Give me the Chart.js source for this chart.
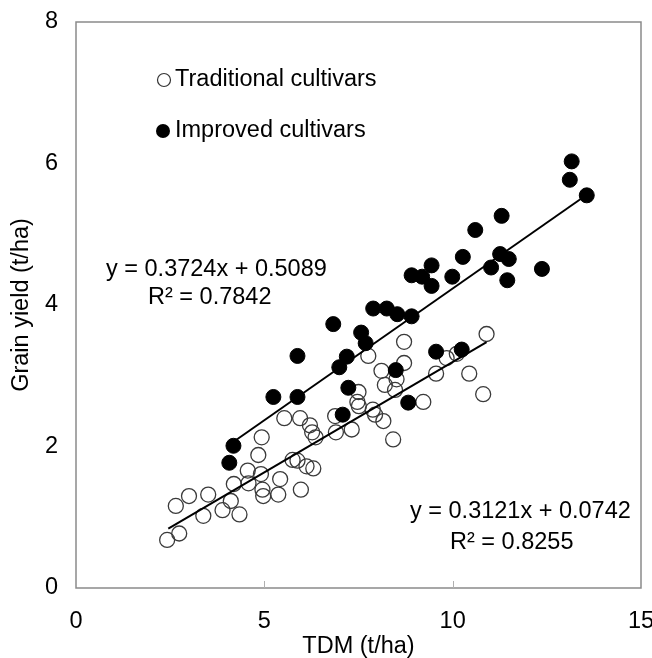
<!DOCTYPE html>
<html lang="en">
  <head>
    <meta charset="UTF-8" />
    <title>Grain yield vs TDM</title>
    <style>
      body { margin: 0; background: #fff; }
    </style>
  </head>
  <body>
    <div style="position: relative; width: 652px; height: 658px">
      <canvas id="scatter"></canvas>
    </div>

    <script src="https://cdn.jsdelivr.net/npm/chart.js"></script>
    <script>
      // traditional cultivars (open circles)
      const tradX = [2.42, 2.74, 2.65, 3.0, 3.38, 3.51, 3.89, 4.11, 4.34, 4.19, 4.56, 4.58, 4.91, 4.95, 4.97, 4.84, 4.93, 5.37, 5.42, 5.53, 5.95, 5.75, 5.88, 5.97, 6.12, 6.3, 6.21, 6.27, 6.36, 6.9, 6.88, 7.32, 7.5, 7.47, 7.51, 7.76, 7.88, 7.94, 8.16, 8.11, 8.2, 8.42, 8.47, 8.51, 8.71, 8.71, 9.84, 9.56, 10.44, 10.81, 9.22, 10.9, 10.11];
      const tradY = [0.68, 0.77, 1.16, 1.3, 1.02, 1.32, 1.1, 1.23, 1.04, 1.47, 1.66, 1.48, 1.61, 1.39, 1.3, 1.88, 2.13, 1.32, 1.54, 2.4, 2.4, 1.81, 1.8, 1.39, 1.72, 1.69, 2.3, 2.2, 2.13, 2.2, 2.43, 2.24, 2.77, 2.63, 2.57, 3.28, 2.52, 2.45, 2.36, 3.07, 2.87, 2.1, 2.8, 2.95, 3.48, 3.18, 3.25, 3.03, 3.03, 2.74, 2.63, 3.59, 3.31];

      // improved cultivars (filled circles)
      const impX = [4.18, 4.07, 5.24, 5.88, 5.88, 6.83, 6.99, 7.19, 7.23, 7.08, 7.57, 7.69, 7.89, 8.25, 8.53, 8.91, 8.49, 8.82, 9.56, 10.24, 8.91, 9.19, 9.44, 9.44, 9.99, 10.27, 10.6, 11.3, 11.26, 11.49, 11.02, 11.45, 12.37, 13.16, 13.11, 13.56];
      const impY = [2.01, 1.77, 2.7, 2.7, 3.28, 3.73, 3.12, 3.27, 2.83, 2.45, 3.61, 3.46, 3.95, 3.95, 3.87, 3.84, 3.08, 2.62, 3.34, 3.37, 4.42, 4.4, 4.27, 4.56, 4.4, 4.68, 5.06, 5.26, 4.72, 4.65, 4.53, 4.35, 4.51, 6.03, 5.77, 5.55];

      // fitted lines shown on the chart
      const tradFit = { slope: 0.3121, intercept: 0.0742, from: 2.45, to: 10.9 };
      const impFit = { slope: 0.3724, intercept: 0.5089, from: 4.25, to: 13.56 };

      const xTicks = [0, 5, 10, 15];
      const yTicks = [0, 2, 4, 6, 8];

      const FONT = "'Liberation Sans', Arial, sans-serif";
      const TEXT_SIZE = 23.5;

      function toPoints(xs, ys) {
        return xs.map((x, i) => ({ x: x, y: ys[i] }));
      }
      function fitLine(f) {
        return [
          { x: f.from, y: f.slope * f.from + f.intercept },
          { x: f.to, y: f.slope * f.to + f.intercept },
        ];
      }
      // keep the plot box where the layout padding puts it
      function noLabelPadding(s) {
        s.paddingLeft = 0;
        s.paddingRight = 0;
        s.paddingTop = 0;
        s.paddingBottom = 0;
      }

      // frame, inner ticks, legend and equations
      const decorations = {
        id: "decorations",
        afterDraw(chart) {
          const ctx = chart.ctx;
          const a = chart.chartArea;
          const xs = chart.scales.x;
          ctx.save();
          ctx.strokeStyle = "#8a8a8a";
          ctx.lineWidth = 1.5;
          ctx.strokeRect(a.left, a.top, a.right - a.left, a.bottom - a.top);
          ctx.lineWidth = 1;
          ctx.strokeStyle = "#b0b0b0";
          xTicks.slice(1, -1).forEach((v) => {
            const px = Math.round(xs.getPixelForValue(v)) + 0.5;
            ctx.beginPath();
            ctx.moveTo(px, a.bottom);
            ctx.lineTo(px, a.bottom - 7);
            ctx.stroke();
          });

          ctx.fillStyle = "#000";
          ctx.font = TEXT_SIZE + "px " + FONT;
          ctx.textBaseline = "middle";
          ctx.textAlign = "left";

          // legend
          ctx.strokeStyle = "#333";
          ctx.lineWidth = 1.2;
          ctx.beginPath();
          ctx.arc(164, 80, 6.5, 0, Math.PI * 2);
          ctx.stroke();
          ctx.fillText("Traditional cultivars", 175, 80);
          ctx.beginPath();
          ctx.arc(163, 131, 7, 0, Math.PI * 2);
          ctx.fill();
          ctx.fillText("Improved cultivars", 175, 131);

          // regression equations
          ctx.fillText("y = 0.3724x + 0.5089", 106, 270);
          ctx.fillText("R² = 0.7842", 148, 298);
          ctx.fillText("y = 0.3121x + 0.0742", 410, 512);
          ctx.fillText("R² = 0.8255", 450, 543);
          ctx.restore();
        },
      };

      new Chart(document.getElementById("scatter"), {
        type: "scatter",
        data: {
          datasets: [
            {
              label: "Improved fit",
              data: fitLine(impFit),
              showLine: true,
              borderColor: "#000",
              borderWidth: 2,
              pointRadius: 0,
              order: 0,
            },
            {
              label: "Traditional fit",
              data: fitLine(tradFit),
              showLine: true,
              borderColor: "#000",
              borderWidth: 2,
              pointRadius: 0,
              order: 0,
            },
            {
              label: "Improved cultivars",
              data: toPoints(impX, impY),
              pointRadius: 7.5,
              pointBackgroundColor: "#000",
              pointBorderColor: "#000",
              pointBorderWidth: 1,
              order: 1,
            },
            {
              label: "Traditional cultivars",
              data: toPoints(tradX, tradY),
              pointRadius: 7.5,
              pointBackgroundColor: "rgba(0,0,0,0)",
              pointBorderColor: "#3a3a3a",
              pointBorderWidth: 1.3,
              order: 2,
            },
          ],
        },
        options: {
          responsive: true,
          maintainAspectRatio: false,
          animation: false,
          layout: { padding: { left: 0, right: 11, top: 22, bottom: 0 } },
          plugins: {
            legend: { display: false },
            tooltip: { enabled: false },
          },
          scales: {
            x: {
              type: "linear",
              min: 0,
              max: 15,
              afterBuildTicks: (s) => { s.ticks = xTicks.map((v) => ({ value: v })); },
              afterFit: (s) => { s.height = 70; noLabelPadding(s); },
              grid: { display: false, drawTicks: false },
              border: { display: false },
              ticks: {
                padding: 19,
                color: "#000",
                font: { family: FONT, size: TEXT_SIZE },
              },
              title: {
                display: true,
                text: "TDM (t/ha)",
                color: "#000",
                font: { family: FONT, size: TEXT_SIZE, lineHeight: 1 },
                padding: { top: 0, bottom: 0 },
              },
            },
            y: {
              type: "linear",
              min: 0,
              max: 8,
              afterBuildTicks: (s) => { s.ticks = yTicks.map((v) => ({ value: v })); },
              afterFit: (s) => { s.width = 76; noLabelPadding(s); },
              grid: { display: false, drawTicks: false },
              border: { display: false },
              ticks: {
                padding: 18,
                color: "#000",
                font: { family: FONT, size: TEXT_SIZE },
              },
              title: {
                display: true,
                text: "Grain yield (t/ha)",
                color: "#000",
                font: { family: FONT, size: TEXT_SIZE, lineHeight: 1 },
                padding: { top: 10, bottom: 0 },
              },
            },
          },
        },
        plugins: [decorations],
      });
    </script>
  </body>
</html>
